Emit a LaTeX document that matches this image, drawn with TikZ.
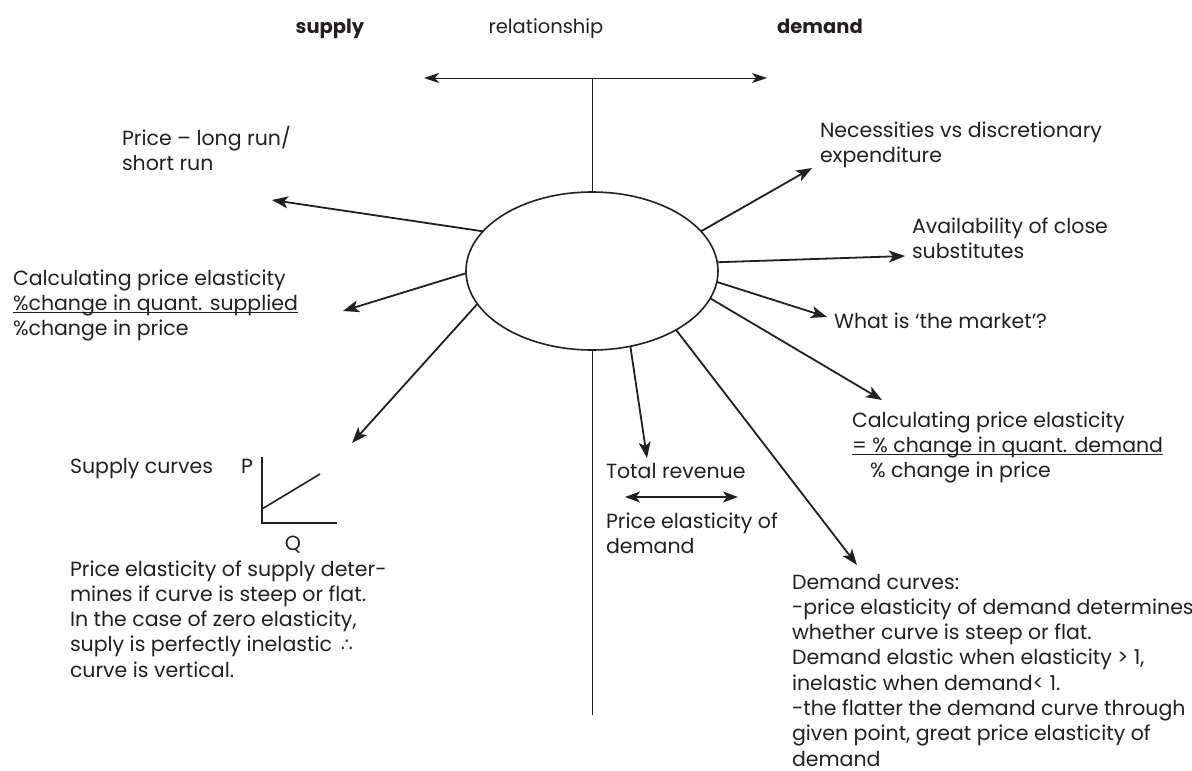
\documentclass[tikz,border=0pt]{standalone}
\usepackage{fontspec}
\setmainfont{Poppins}
\newfontfamily\symfont{DejaVu Sans}
\usetikzlibrary{arrows.meta,shapes.geometric}
\definecolor{ink}{HTML}{231F20}
% underline drawn just below the baseline, through the descenders
\newcommand\lowline[1]{\setbox0=\hbox{#1}\rlap{\rule[-2.6pt]{\wd0}{1pt}}#1}
\begin{document}
\begin{tikzpicture}[x=1pt,y=-1pt,
  every node/.style={inner sep=0pt,outer sep=0pt,text=ink},
  % multi-line labels are placed by the baseline of their last line
  txt/.style={anchor=base west,align=left,font=\fontsize{20.5}{25.3}\selectfont},
  head/.style={anchor=base,font=\fontsize{19.5}{25.3}\selectfont},
  spoke/.style={draw=ink,line width=1.8pt,-{Stealth[length=16pt,width=12pt,inset=4pt]}},
  thin/.style={draw=ink,line width=0.9pt},
  axis/.style={draw=ink,line width=1.6pt}]
\useasboundingbox (0,0) rectangle (1192,771);

% central topic
\node[draw=ink,line width=1.6pt,ellipse,minimum width=252,minimum height=158] (hub) at (592,271) {};

% top headings
\node[head] (supply) at (330,33) {\textbf{supply}};
\node[head] (rel) at (546,33) {relationship};
\node[head] (demand) at (820,33) {\textbf{demand}};

% relationship bar and axis through the hub
\coordinate (barL) at (424,78);
\coordinate (barR) at (767,78);
\coordinate (barM) at (592,78);
\coordinate (axisEnd) at (592,715);
\draw[thin,{Stealth[length=15pt,width=10pt,inset=4pt]}-{Stealth[length=15pt,width=10pt,inset=4pt]}] (barL) -- (barR);
\draw[thin] (barM) -- (hub.north);
\draw[thin] (hub.south) -- (axisEnd);

% supply side
\node[txt] (run) at (122,170.3) {Price – long run/\\short run};
\node[txt] (calcS) at (13,335.6) {Calculating price elasticity\\\lowline{\%change in quant. supplied}\\\%change in price};
\node[txt] (scurves) at (70,473) {Supply curves};
\node[txt] (plab) at (241,473) {P};
\node[head,font=\fontsize{20.5}{25.3}\selectfont] (qlab) at (293,550) {Q};
\node[txt] (pes) at (70,677.2) {Price elasticity of supply deter-\\mines if curve is steep or flat.\\In the case of zero elasticity,\\suply is perfectly inelastic \,{\symfont\fontsize{19}{19}\selectfont ∴}\\curve is vertical.};

\coordinate (o) at (262,523);
\coordinate (pt) at (262,457);
\coordinate (qt) at (337,523);
\coordinate (s0) at (262,509);
\coordinate (s1) at (320,474);
\draw[axis] (pt) -- (o) -- (qt);
\draw[axis] (s0) -- (s1);

% demand side
\node[txt] (nec) at (820,162.3) {Necessities vs discretionary\\expenditure};
\node[txt] (avail) at (912,258.3) {Availability of close\\substitutes};
\node[txt] (mkt) at (834,328) {What is ‘the market’?};
\node[txt] (calcD) at (852,477.6) {Calculating price elasticity\\\lowline{= \% change in quant. demand}\\\hspace*{18pt}\% change in price};
\node[txt] (rev) at (606,478) {Total revenue};
\node[txt] (ped) at (606,553.3) {Price elasticity of\\demand};
\node[txt] (dcurves) at (792,766.1) {Demand curves:\\-price elasticity of demand determines\\whether curve is steep or flat.\\Demand elastic when elasticity > 1,\\inelastic when demand< 1.\\-the flatter the demand curve through\\given point, great price elasticity of\\demand};

\coordinate (revL) at (625,497);
\coordinate (revR) at (738,497);
\draw[draw=ink,line width=1.6pt,{Stealth[length=15pt,width=11pt,inset=4pt]}-{Stealth[length=15pt,width=11pt,inset=4pt]}] (revL) -- (revR);

% spoke tips
\coordinate (tRun) at (272,200);
\coordinate (tCalcS) at (343,311);
\coordinate (tCurveS) at (352,443);
\coordinate (tNec) at (812,168);
\coordinate (tAvail) at (905,256);
\coordinate (tMkt) at (827,317);
\coordinate (tCalcD) at (882,400);
\coordinate (tCurveD) at (857,565);
\coordinate (tRev) at (647,458);

\draw[spoke] (hub.160.8) -- (tRun);
\draw[spoke] (hub.181.4) -- (tCalcS);
\draw[spoke] (hub.196.5) -- (tCurveS);
\draw[spoke] (hub.20.2) -- (tNec);
\draw[spoke] (hub.4.1) -- (tAvail);
\draw[spoke] (hub.355.6) -- (tMkt);
\draw[spoke] (hub.347.4) -- (tCalcD);
\draw[spoke] (hub.325.9) -- (tCurveD);
\draw[spoke] (hub.297.1) -- (tRev);
\end{tikzpicture}
\end{document}
